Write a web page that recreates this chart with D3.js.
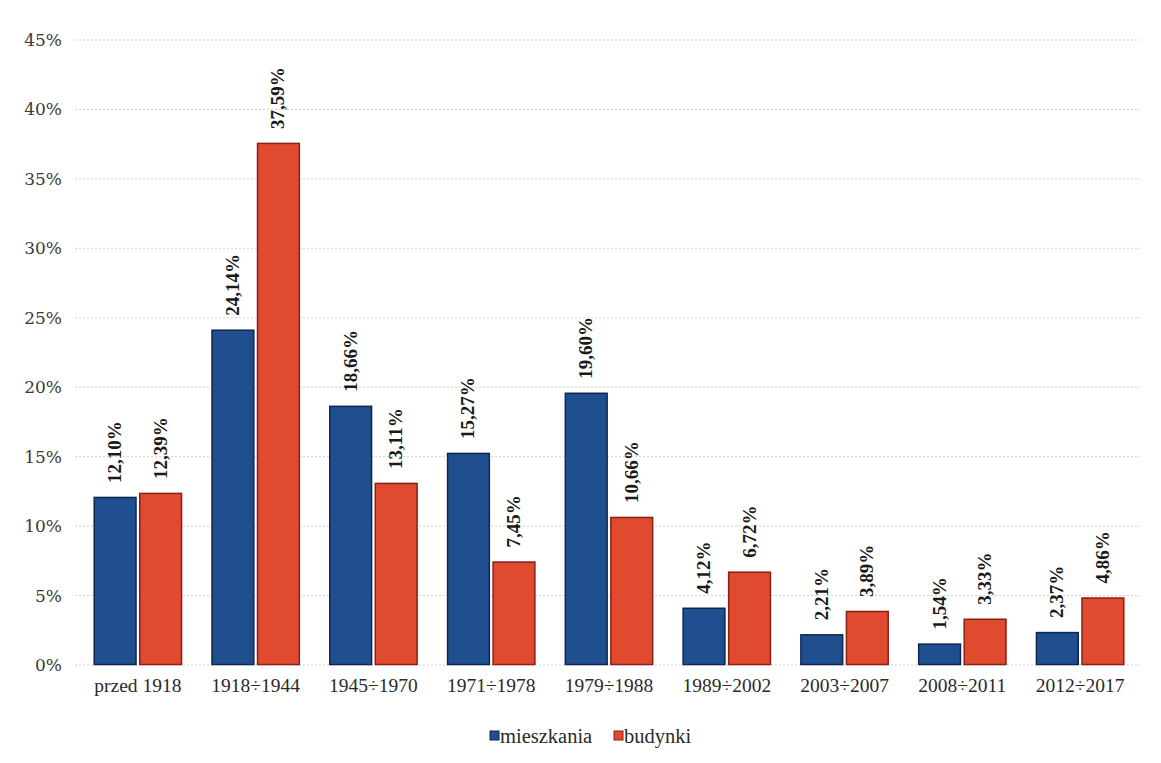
<!DOCTYPE html>
<html><head><meta charset="utf-8">
<script src="https://cdn.jsdelivr.net/npm/d3@7"></script>
<style>body{margin:0;background:#fff;}svg{display:block;}</style>
</head><body>
<svg id="c" width="1161" height="763"></svg>
<script>
const categories = ["przed 1918","1918÷1944","1945÷1970","1971÷1978","1979÷1988","1989÷2002","2003÷2007","2008÷2011","2012÷2017"];
const mieszkania = [12.10,24.14,18.66,15.27,19.60,4.12,2.21,1.54,2.37];
const budynki = [12.39,37.59,13.11,7.45,10.66,6.72,3.89,3.33,4.86];
const seriesNames = ["mieszkania","budynki"];
const yTicks = [0,5,10,15,20,25,30,35,40,45];

const colors = {mieszkania:"#1f4f8f", budynki:"#e04b30"};
const strokes = {mieszkania:"#0e2750", budynki:"#8a1f14"};
const SERIF = "'Liberation Serif', 'Times New Roman', serif";
const DSERIF = "'DejaVu Serif', serif";
const svg = d3.select("#c");
const fmt = v => v.toFixed(2).replace(".", ",") + "%";

const y = d3.scaleLinear().domain([0,45]).range([665,40]);
const x = d3.scaleBand().domain(categories).range([79,1139]).paddingInner(0.25).paddingOuter(0.125);
const xs = d3.scaleBand().domain(seriesNames).range([0,x.bandwidth()]).paddingInner(0.06);

// grid
svg.append("g").selectAll("line").data(yTicks).join("line")
  .attr("x1",75).attr("x2",1140).attr("y1",d=>y(d)).attr("y2",d=>y(d))
  .attr("stroke","#cfcfcf").attr("stroke-width",1).attr("stroke-dasharray","2,2");

// y axis labels
const yAxis = d3.axisLeft(y).tickValues(yTicks).tickFormat(d=>d+"%").tickSize(0).tickPadding(0);
const ya = svg.append("g").attr("transform","translate(62,0)").call(yAxis);
ya.select(".domain").remove();
ya.selectAll("text").style("font-family",DSERIF).style("font-size","17px").attr("fill","#3a3a3a");

// x axis labels
const xAxis = d3.axisBottom(x).tickSize(0).tickPadding(0);
const xa = svg.append("g").attr("transform","translate(0,678)").call(xAxis);
xa.select(".domain").remove();
xa.selectAll("text").style("font-family",SERIF).style("font-size","19.5px").attr("fill","#2a2a2a").attr("dy","0.71em");

// bars
const data = [];
categories.forEach((c,i)=>{
  data.push({c, s:"mieszkania", v:mieszkania[i]});
  data.push({c, s:"budynki", v:budynki[i]});
});
const g = svg.append("g");
g.selectAll("rect").data(data).join("rect")
  .attr("x",d=>x(d.c)+xs(d.s)+0.5)
  .attr("y",d=>y(d.v)+0.5)
  .attr("width",xs.bandwidth()-1)
  .attr("height",d=>y(0)-y(d.v)-1)
  .attr("fill",d=>colors[d.s]).attr("stroke",d=>strokes[d.s]).attr("stroke-width",1.5);

// value labels
g.selectAll("text").data(data).join("text")
  .attr("transform",d=>`translate(${x(d.c)+xs(d.s)+xs.bandwidth()/2+6},${y(d.v)-14}) rotate(-90)`)
  .style("font-family",SERIF).style("font-weight","bold").style("font-size","19px")
  .attr("fill","#1a1a1a").attr("text-anchor","start")
  .text(d=>fmt(d.v));

// legend
const leg = svg.append("g").attr("transform","translate(490,737)");
const items = [{s:"mieszkania", x:0},{s:"budynki", x:124}];
items.forEach(it=>{
  leg.append("rect").attr("x",it.x).attr("y",-6).attr("width",9).attr("height",9)
    .attr("fill",colors[it.s]).attr("stroke",strokes[it.s]);
  leg.append("text").attr("x",it.x+10).attr("y",0).attr("dy","0.3em")
    .style("font-family",SERIF).style("font-size","20.5px").attr("fill","#2a2a2a")
    .text(it.s);
});
</script>
</body></html>
